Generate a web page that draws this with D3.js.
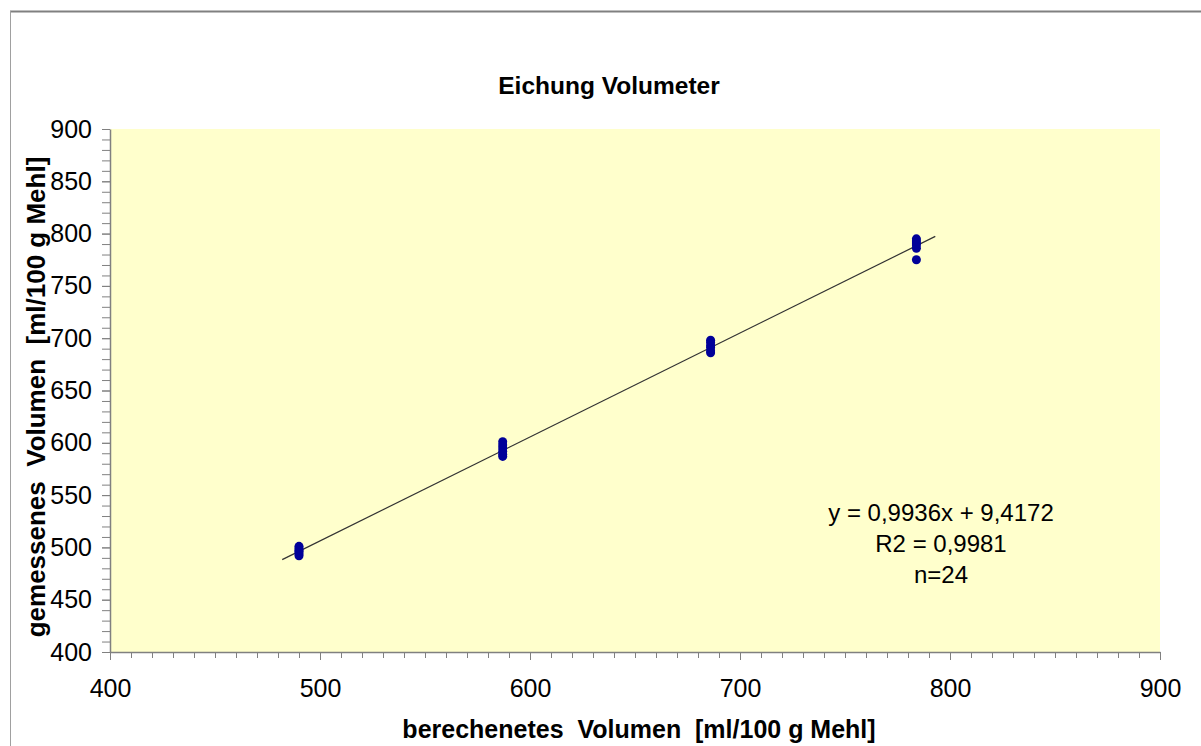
<!DOCTYPE html>
<html>
<head>
<meta charset="utf-8">
<script src="https://cdn.jsdelivr.net/npm/d3@7"></script>
<style>
  body { margin: 0; background: #fff; }
  text { font-family: Arial, "Liberation Sans", sans-serif; fill: #000; }
</style>
</head>
<body>
<div id="chart"></div>
<script>
// calculated volume levels (ml/100 g Mehl) and the measured values at each level
const calcLevels = [490, 587, 686, 784];
const measured = [
    [492, 494, 496, 497, 499, 501],
    [587, 589, 592, 595, 598, 601],
    [686, 688, 691, 693, 696, 698],
    [775, 786, 789, 791, 793, 795]
];

// linear trend line from the chart
const trendSlope = 0.9936;
const trendIntercept = 9.4172;
const trendRange = [482, 793];

const xTicks = [400, 500, 600, 700, 800, 900];
const yTicks = [400, 450, 500, 550, 600, 650, 700, 750, 800, 850, 900];
const statsLines = ["y = 0,9936x + 9,4172", "R2 = 0,9981", "n=24"];

const width = 1201, height = 746;
const margin = {top: 129, right: 41, bottom: 94, left: 110};

const svg = d3.select("#chart").append("svg")
    .attr("width", width)
    .attr("height", height);

// chart area border (only top and left visible)
svg.append("line").attr("x1", 10).attr("x2", width).attr("y1", 11.5).attr("y2", 11.5)
    .attr("stroke", "#808080").attr("stroke-width", 2);
svg.append("line").attr("x1", 10.5).attr("x2", 10.5).attr("y1", 11).attr("y2", height)
    .attr("stroke", "#a0a0a0").attr("stroke-width", 1);

const x = d3.scaleLinear().domain([400, 900]).range([margin.left, width - margin.right]);
const y = d3.scaleLinear().domain([400, 900]).range([height - margin.bottom, margin.top]);

// plot area
svg.append("rect")
    .attr("x", x(400)).attr("y", y(900))
    .attr("width", x(900) - x(400)).attr("height", y(400) - y(900))
    .attr("fill", "#ffffcc");

// minor ticks
svg.append("g")
    .attr("transform", `translate(0,${y(400)})`)
    .call(d3.axisBottom(x).tickValues(d3.range(400, 901, 10)).tickSize(6).tickFormat(""))
    .call(g => g.selectAll("line").attr("stroke", "#808080"))
    .call(g => g.select(".domain").remove());
svg.append("g")
    .attr("transform", `translate(${x(400)},0)`)
    .call(d3.axisLeft(y).tickValues(d3.range(400, 901, 10)).tickSize(8).tickFormat(""))
    .call(g => g.selectAll("line").attr("stroke", "#808080"))
    .call(g => g.select(".domain").remove());

// major axes
const xAxis = svg.append("g")
    .attr("transform", `translate(0,${y(400)})`)
    .call(d3.axisBottom(x).tickValues(xTicks).tickSize(8).tickSizeOuter(0).tickPadding(19));
const yAxis = svg.append("g")
    .attr("transform", `translate(${x(400)},0)`)
    .call(d3.axisLeft(y).tickValues(yTicks).tickSize(8).tickSizeOuter(0).tickPadding(10));

[xAxis, yAxis].forEach(a => {
    a.select(".domain").attr("stroke", "#808080").attr("stroke-width", 1.5);
    a.selectAll("line").attr("stroke", "#808080");
    a.selectAll("text").attr("font-size", 25).attr("font-family", "Arial, 'Liberation Sans', sans-serif").attr("fill", "#000");
});

// trend line
svg.append("line")
    .attr("x1", x(trendRange[0])).attr("y1", y(trendSlope * trendRange[0] + trendIntercept))
    .attr("x2", x(trendRange[1])).attr("y2", y(trendSlope * trendRange[1] + trendIntercept))
    .attr("stroke", "#333").attr("stroke-width", 1.2);

// points
const points = [];
calcLevels.forEach((c, i) => measured[i].forEach(m => points.push({x: c, y: m})));

svg.append("g").selectAll("circle")
    .data(points)
    .enter().append("circle")
    .attr("cx", d => x(d.x))
    .attr("cy", d => y(d.y))
    .attr("r", 4.5)
    .attr("fill", "#000099");

// title
svg.append("text")
    .attr("x", 609).attr("y", 94)
    .attr("text-anchor", "middle")
    .attr("font-size", 24.5).attr("font-weight", "bold")
    .text("Eichung Volumeter");

// axis titles
svg.append("text")
    .attr("x", 639).attr("y", 738)
    .attr("text-anchor", "middle")
    .attr("font-size", 25).attr("font-weight", "bold")
    .attr("xml:space", "preserve")
    .text("berechenetes  Volumen  [ml/100 g Mehl]");

svg.append("text")
    .attr("transform", "translate(45,397) rotate(-90)")
    .attr("text-anchor", "middle")
    .attr("font-size", 26).attr("font-weight", "bold")
    .attr("xml:space", "preserve")
    .text("gemessenes  Volumen  [ml/100 g Mehl]");

// regression stats
svg.append("g").selectAll("text")
    .data(statsLines)
    .enter().append("text")
    .attr("x", 941)
    .attr("y", (d, i) => 521 + i * 31)
    .attr("text-anchor", "middle")
    .attr("font-size", 24)
    .text(d => d);
</script>
</body>
</html>
